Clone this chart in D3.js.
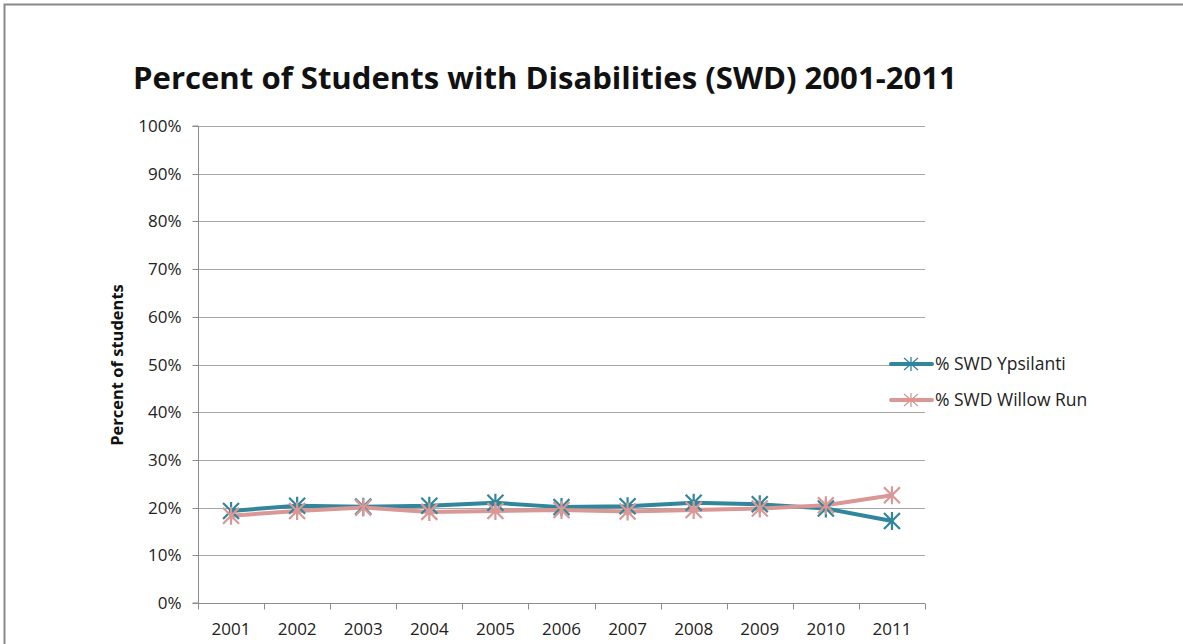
<!DOCTYPE html>
<html>
<head>
<meta charset="utf-8">
<script src="https://cdn.jsdelivr.net/npm/d3@7"></script>
<style>
  html, body { margin: 0; padding: 0; background: #fff; }
  svg { display: block; font-family: "Open Sans", "Noto Sans", sans-serif; }
</style>
</head>
<body>
<svg id="chart" width="1183" height="644"></svg>
<script>
const years = ["2001","2002","2003","2004","2005","2006","2007","2008","2009","2010","2011"];
const ypsilanti = [19.3, 20.4, 20.2, 20.4, 21.0, 20.1, 20.3, 21.0, 20.7, 19.8, 17.2];
const willowRun = [18.3, 19.3, 20.0, 19.1, 19.3, 19.5, 19.2, 19.5, 19.8, 20.5, 22.6];
const yTicks = [0, 10, 20, 30, 40, 50, 60, 70, 80, 90, 100];
const seriesNames = ["% SWD Ypsilanti", "% SWD Willow Run"];
const seriesColors = ["#31869b", "#d99795"];
const titleText = "Percent of Students with Disabilities (SWD) 2001-2011";
const yAxisTitle = "Percent of students";

const svg = d3.select("#chart");
const m = { left: 198, right: 925, top: 126, bottom: 603 };

// outer border (top & left visible)
svg.append("rect").attr("x", 4.5).attr("y", 4.5).attr("width", 1300).attr("height", 800)
  .attr("fill", "none").attr("stroke", "#898989").attr("stroke-width", 2);

const x = d3.scaleBand().domain(years).range([m.left, m.right]);
const y = d3.scaleLinear().domain([0, 100]).range([m.bottom, m.top]);

// gridlines
svg.append("g").selectAll("line").data(yTicks).join("line")
  .attr("x1", m.left).attr("x2", m.right)
  .attr("y1", d => Math.round(y(d)) + 0.5).attr("y2", d => Math.round(y(d)) + 0.5)
  .attr("stroke", "#a6a6a6").attr("stroke-width", 1);

// y axis
const yAxis = d3.axisLeft(y).tickValues(yTicks).tickFormat(d => d + "%").tickSize(6).tickPadding(11);
const yg = svg.append("g").attr("transform", `translate(${m.left + 0.5},0)`).call(yAxis);
yg.select(".domain").attr("stroke", "#8c8c8c").attr("d", `M-6,${m.bottom}H0V${m.top}H-6`);
yg.selectAll(".tick line").attr("stroke", "#8c8c8c");
yg.selectAll(".tick text").attr("font-size", 17).attr("fill", "#222").attr("dy", "0.35em")
  .attr("font-family", "'Open Sans', sans-serif");
yg.selectAll(".tick").attr("transform", d => `translate(0,${Math.round(y(d)) + 0.5})`);

// x axis
const xAxis = d3.axisBottom(x).tickSize(0).tickPadding(23);
const xg = svg.append("g").attr("transform", `translate(0,${m.bottom + 0.5})`).call(xAxis);
xg.select(".domain").attr("stroke", "#8c8c8c").attr("d", `M${m.left},0H${m.right}`);
xg.selectAll(".tick text").attr("font-size", 17).attr("fill", "#222").attr("dy", "0.5em")
  .attr("font-family", "'Open Sans', sans-serif");
// x tick marks at band boundaries
const boundaries = years.map(d => x(d)).concat([m.right]);
xg.append("g").selectAll("line").data(boundaries).join("line")
  .attr("x1", d => Math.round(d) + 0.5).attr("x2", d => Math.round(d) + 0.5)
  .attr("y1", 0).attr("y2", 6).attr("stroke", "#8c8c8c");

// series
const cx = d => x(d) + x.bandwidth() / 2;
const line = d3.line().x((d, i) => cx(years[i])).y(d => y(d));
function star(g, px, py, color) {
  const r = 8;
  g.append("path")
    .attr("d", `M${px - r},${py - r}L${px + r},${py + r}M${px - r},${py + r}L${px + r},${py - r}M${px},${py - r - 1}L${px},${py + r + 1}`)
    .attr("stroke", color).attr("stroke-width", 2.2).attr("fill", "none");
}
const allSeries = [ypsilanti, willowRun];
allSeries.forEach((vals, k) => {
  svg.append("path").datum(vals).attr("d", line)
    .attr("fill", "none").attr("stroke", seriesColors[k]).attr("stroke-width", 4)
    .attr("stroke-linejoin", "round").attr("stroke-linecap", "round");
});
allSeries.forEach((vals, k) => {
  const g = svg.append("g");
  vals.forEach((v, i) => star(g, cx(years[i]), y(v), seriesColors[k]));
});

// legend
const legY = [364, 400];
seriesNames.forEach((name, k) => {
  const g = svg.append("g");
  g.append("line").attr("x1", 891).attr("x2", 932).attr("y1", legY[k]).attr("y2", legY[k])
    .attr("stroke", seriesColors[k]).attr("stroke-width", 4).attr("stroke-linecap", "round");
  const c = seriesColors[k];
  g.append("path")
    .attr("d", `M904,${legY[k]-6}L918,${legY[k]+6}M904,${legY[k]+6}L918,${legY[k]-6}M911,${legY[k]-7}L911,${legY[k]+7}`)
    .attr("stroke", c).attr("stroke-width", 1.3).attr("fill", "none");
  g.append("text").attr("x", 935).attr("y", legY[k]).attr("dy", "0.35em")
    .attr("font-size", 17.5).attr("fill", "#222").text(name);
});

// y axis title
svg.append("text").attr("transform", "translate(123,365) rotate(-90)")
  .attr("text-anchor", "middle").attr("font-size", 16.5).attr("font-weight", "bold")
  .attr("fill", "#111").text(yAxisTitle);

// title
const t = svg.append("text").attr("x", 133).attr("y", 89)
  .attr("font-size", 29).attr("font-weight", "bold").attr("fill", "#111").text(titleText);
const w = t.node().getComputedTextLength();
t.attr("font-size", 29 * 824 / w);
</script>
</body>
</html>
